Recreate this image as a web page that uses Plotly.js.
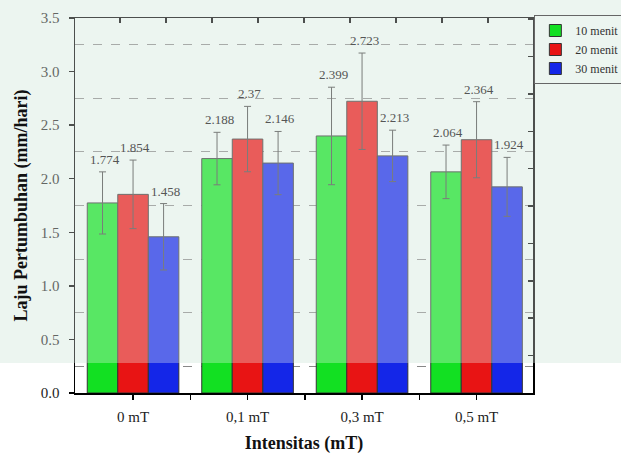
<!DOCTYPE html>
<html>
<head>
<meta charset="utf-8">
<script src="https://cdn.plot.ly/plotly-3.0.1.min.js"></script>
<style>html,body{margin:0;padding:0;background:#fff;}#chart{width:621px;height:454px;}</style>
</head>
<body>
<div id="chart"></div>
<script>
// ---- data ----
const categories = ['0 mT', '0,1 mT', '0,3 mT', '0,5 mT'];
const seriesNames = ['10 menit', '20 menit', '30 menit'];
const values10 = [1.774, 2.188, 2.399, 2.064];
const values20 = [1.854, 2.37, 2.723, 2.364];
const values30 = [1.458, 2.146, 2.213, 1.924];
const errors10 = [0.29, 0.245, 0.455, 0.25];
const errors20 = [0.32, 0.305, 0.45, 0.355];
const errors30 = [0.31, 0.295, 0.24, 0.275];

// ---- styling ----
const colors = ['#12e022', '#e81414', '#1426e8'];
const FAM = 'Liberation Serif';
const xpos = categories.map((c, i) => i);
const allValues = [values10, values20, values30];
const allErrors = [errors10, errors20, errors30];

const traces = allValues.map((vals, s) => ({
  type: 'bar',
  name: seriesNames[s],
  x: xpos,
  y: vals,
  marker: {color: colors[s], line: {color: '#333', width: 1}},
  error_y: {type: 'data', array: allErrors[s], visible: true, color: '#444', thickness: 1, width: 3.5},
  hoverinfo: 'x+y'
}));
// empty trace to register the mirror axes
traces.push({type: 'scatter', x: [], y: [], xaxis: 'x2', yaxis: 'y2', showlegend: false, hoverinfo: 'skip'});

// tick labels on bottom axis (labels on categories, blank ticks between)
const tickvals = [];
const ticktext = [];
categories.forEach((c, i) => {
  tickvals.push(i); ticktext.push(c);
  if (i < categories.length - 1) { tickvals.push(i + 0.5); ticktext.push(''); }
});

const barPx = 114.5 * 0.8 / 3;
const annotations = [];
allValues.forEach((vals, s) => {
  vals.forEach((v, i) => {
    annotations.push({
      x: xpos[i], y: v + allErrors[s][i], xref: 'x', yref: 'y',
      text: String(v), showarrow: false, yanchor: 'bottom',
      xshift: (s - 1) * barPx + 2, yshift: 3,
      font: {family: FAM, size: 13, color: '#555'}
    });
  });
});

const layout = {
  width: 621, height: 454,
  margin: {l: 75, r: 88, t: 18, b: 61, autoexpand: false},
  paper_bgcolor: '#ffffff',
  plot_bgcolor: 'rgba(0,0,0,0)',
  barmode: 'group', bargap: 0.2, bargroupgap: 0,
  font: {family: FAM, color: '#222'},
  showlegend: true,
  legend: {
    x: 1.003, y: 1.008, xanchor: 'left', yanchor: 'top',
    bgcolor: 'rgba(236,245,240,0.9)', bordercolor: '#666', borderwidth: 1,
    font: {family: FAM, size: 12, color: '#333'}, tracegroupgap: 0, itemwidth: 30
  },
  xaxis: {
    range: [-0.507, 3.493], tickmode: 'array', tickvals: tickvals, ticktext: ticktext,
    ticks: 'outside', ticklen: 5, tickwidth: 1.5, tickcolor: '#000', ticklabelstandoff: 4,
    showline: true, linecolor: '#000', linewidth: 2, showgrid: false, zeroline: false,
    tickfont: {family: FAM, size: 15, color: '#222'},
    title: {text: 'Intensitas (mT)', font: {family: FAM, size: 18, color: '#111', weight: 'bold'}, standoff: 12},
    automargin: false
  },
  yaxis: {
    range: [0, 3.5], dtick: 0.5, tick0: 0, tickformat: '.1f',
    ticks: 'outside', ticklen: 5, tickwidth: 1.5, tickcolor: '#000', ticklabelstandoff: 6,
    showline: true, linecolor: '#000', linewidth: 1.5, showgrid: false, zeroline: false,
    tickfont: {family: FAM, size: 15, color: '#222'},
    minor: {dtick: 0.25, tick0: 0, showgrid: true, griddash: 'dash', gridcolor: '#888', gridwidth: 1, ticks: ''},
    title: {text: 'Laju Pertumbuhan (mm/hari)', font: {family: FAM, size: 18, color: '#111', weight: 'bold'}, standoff: 8},
    automargin: false
  },
  xaxis2: {
    overlaying: 'x', side: 'top', anchor: 'y', range: [-0.978, 8.98], dtick: 1, tick0: 0,
    ticks: 'inside', ticklen: 5, tickwidth: 1.5, tickcolor: '#000',
    showline: true, linecolor: '#000', linewidth: 1.5, showticklabels: false,
    showgrid: false, zeroline: false
  },
  yaxis2: {
    overlaying: 'y', side: 'right', anchor: 'x', range: [0, 10.03], dtick: 1, tick0: 0,
    ticks: 'inside', ticklen: 5, tickwidth: 1.5, tickcolor: '#000',
    showline: true, linecolor: '#000', linewidth: 1.5, showticklabels: false,
    showgrid: false, zeroline: false
  },
  shapes: [
    {type: 'rect', xref: 'paper', yref: 'paper', x0: -0.2, x1: 1.25, y0: 0.08, y1: 1.1,
     fillcolor: 'rgb(236,245,240)', line: {width: 0}, layer: 'below'},
    {type: 'rect', xref: 'paper', yref: 'paper', x0: -0.2, x1: 1.25, y0: 0.08, y1: 1.1,
     fillcolor: 'rgb(236,245,240)', opacity: 0.32, line: {width: 0}, layer: 'above'}
  ],
  annotations: annotations
};

Plotly.newPlot('chart', traces, layout, {displayModeBar: false, staticPlot: true});
</script>
</body>
</html>
